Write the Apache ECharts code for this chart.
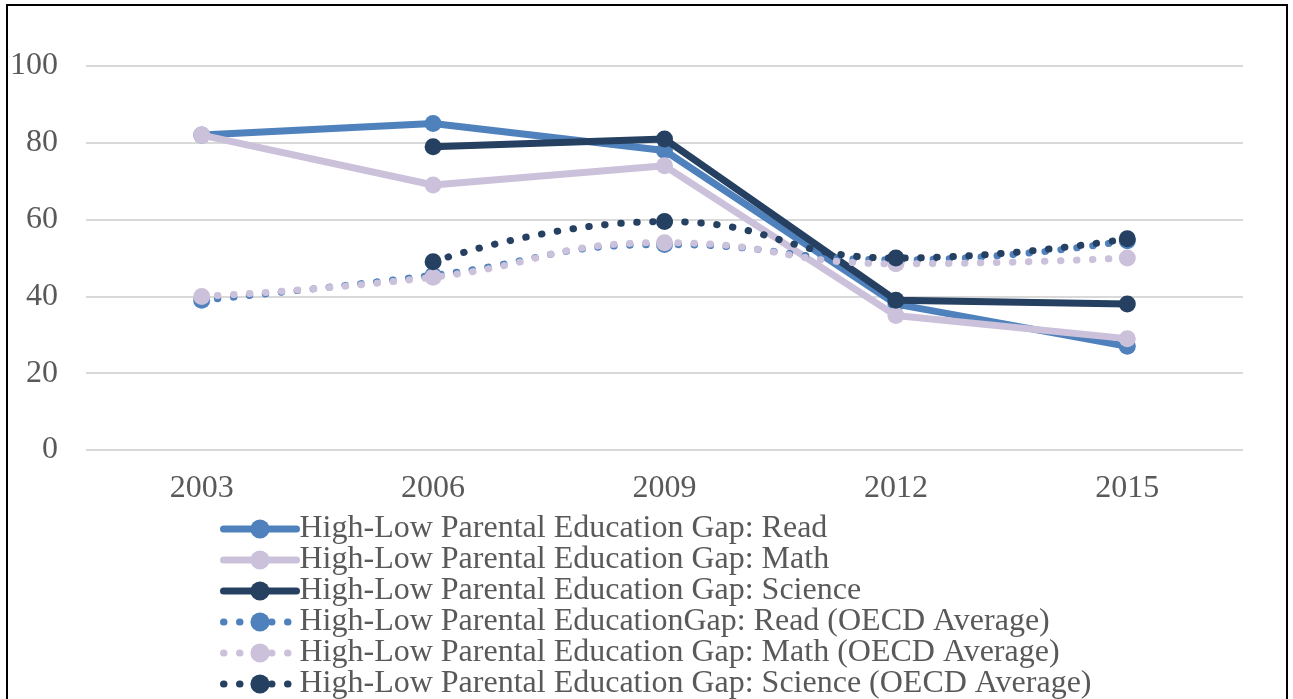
<!DOCTYPE html>
<html>
<head>
<meta charset="utf-8">
<script src="https://cdn.jsdelivr.net/npm/echarts@6/dist/echarts.min.js"></script>
<style>
    html, body { margin: 0; padding: 0; background: #fff; }
    #gap-chart { width: 1293px; height: 699px; }
</style>
</head>
<body>
<div id="gap-chart"></div>
<script>
    // 数据
    var years = ['2003', '2006', '2009', '2012', '2015'];
    var readGap = [82, 85, 78, 38, 27];
    var mathGap = [82, 69, 74, 35, 29];
    var scienceGap = ['-', 79, 81, 39, 38];
    var readOecd = [39, 45.5, 53.5, 49.5, 54.5];
    var mathOecd = [40, 45, 54, 48.5, 50];
    var scienceOecd = ['-', 49, 59.5, 50, 55];
    var yTicks = [0, 20, 40, 60, 80, 100];

    var names = [
        'High-Low Parental Education Gap: Read',
        'High-Low Parental Education Gap: Math',
        'High-Low Parental Education Gap: Science',
        'High-Low Parental EducationGap: Read (OECD Average)',
        'High-Low Parental Education Gap: Math (OECD Average)',
        'High-Low Parental Education Gap: Science (OECD Average)'
    ];
    var colors = ['#4F81BD', '#CCC1DA', '#254061', '#4F81BD', '#CCC1DA', '#254061'];
    var font = '"Liberation Serif", "Times New Roman", serif';

    function solid(i, data) {
        return {
            name: names[i],
            type: 'line',
            data: data,
            symbol: 'circle',
            symbolSize: 17,
            z: 2 + i,
            itemStyle: { color: colors[i] },
            lineStyle: { color: colors[i], width: 7 },
            emphasis: { disabled: true }
        };
    }
    function dotted(i, data) {
        return {
            name: names[i],
            type: 'line',
            data: data,
            smooth: true,
            symbol: 'circle',
            symbolSize: 17,
            z: 2 + i,
            itemStyle: { color: colors[i] },
            lineStyle: { color: colors[i], width: 7, type: [0.5, 15.5], cap: 'round' },
            emphasis: { disabled: true }
        };
    }

    var chart = echarts.init(document.getElementById('gap-chart'));
    var option = {
        animation: false,
        color: colors,
        grid: { left: 86, right: 50, top: 66, bottom: 249 },
        graphic: [{
            type: 'rect',
            shape: { x: 7, y: 5, width: 1280, height: 760 },
            style: { fill: null, stroke: '#000', lineWidth: 2 },
            silent: true
        }],
        legend: {
            orient: 'vertical',
            left: 220,
            top: 513,
            height: 300,
            padding: 0,
            itemWidth: 73,
            itemHeight: 24,
            itemGap: -1,
            data: names,
            lineStyle: { width: 7, cap: 'round' },
            textStyle: { fontFamily: font, fontSize: 32, color: '#595959', lineHeight: 30, padding: [0, 0, 0, -2] }
        },
        xAxis: {
            type: 'category',
            data: years,
            boundaryGap: true,
            axisLine: { show: false },
            axisTick: { show: false },
            axisLabel: { fontFamily: font, fontSize: 32, color: '#595959', margin: 23 }
        },
        yAxis: {
            type: 'value',
            min: yTicks[0],
            max: yTicks[yTicks.length - 1],
            interval: 20,
            axisLine: { show: false },
            axisTick: { show: false },
            splitLine: { lineStyle: { color: '#D9D9D9', width: 2 } },
            axisLabel: { fontFamily: font, fontSize: 32, color: '#595959', margin: 28 }
        },
        series: [
            solid(0, readGap),
            solid(1, mathGap),
            solid(2, scienceGap),
            dotted(3, readOecd),
            dotted(4, mathOecd),
            dotted(5, scienceOecd)
        ]
    };
    chart.setOption(option);
</script>
</body>
</html>
